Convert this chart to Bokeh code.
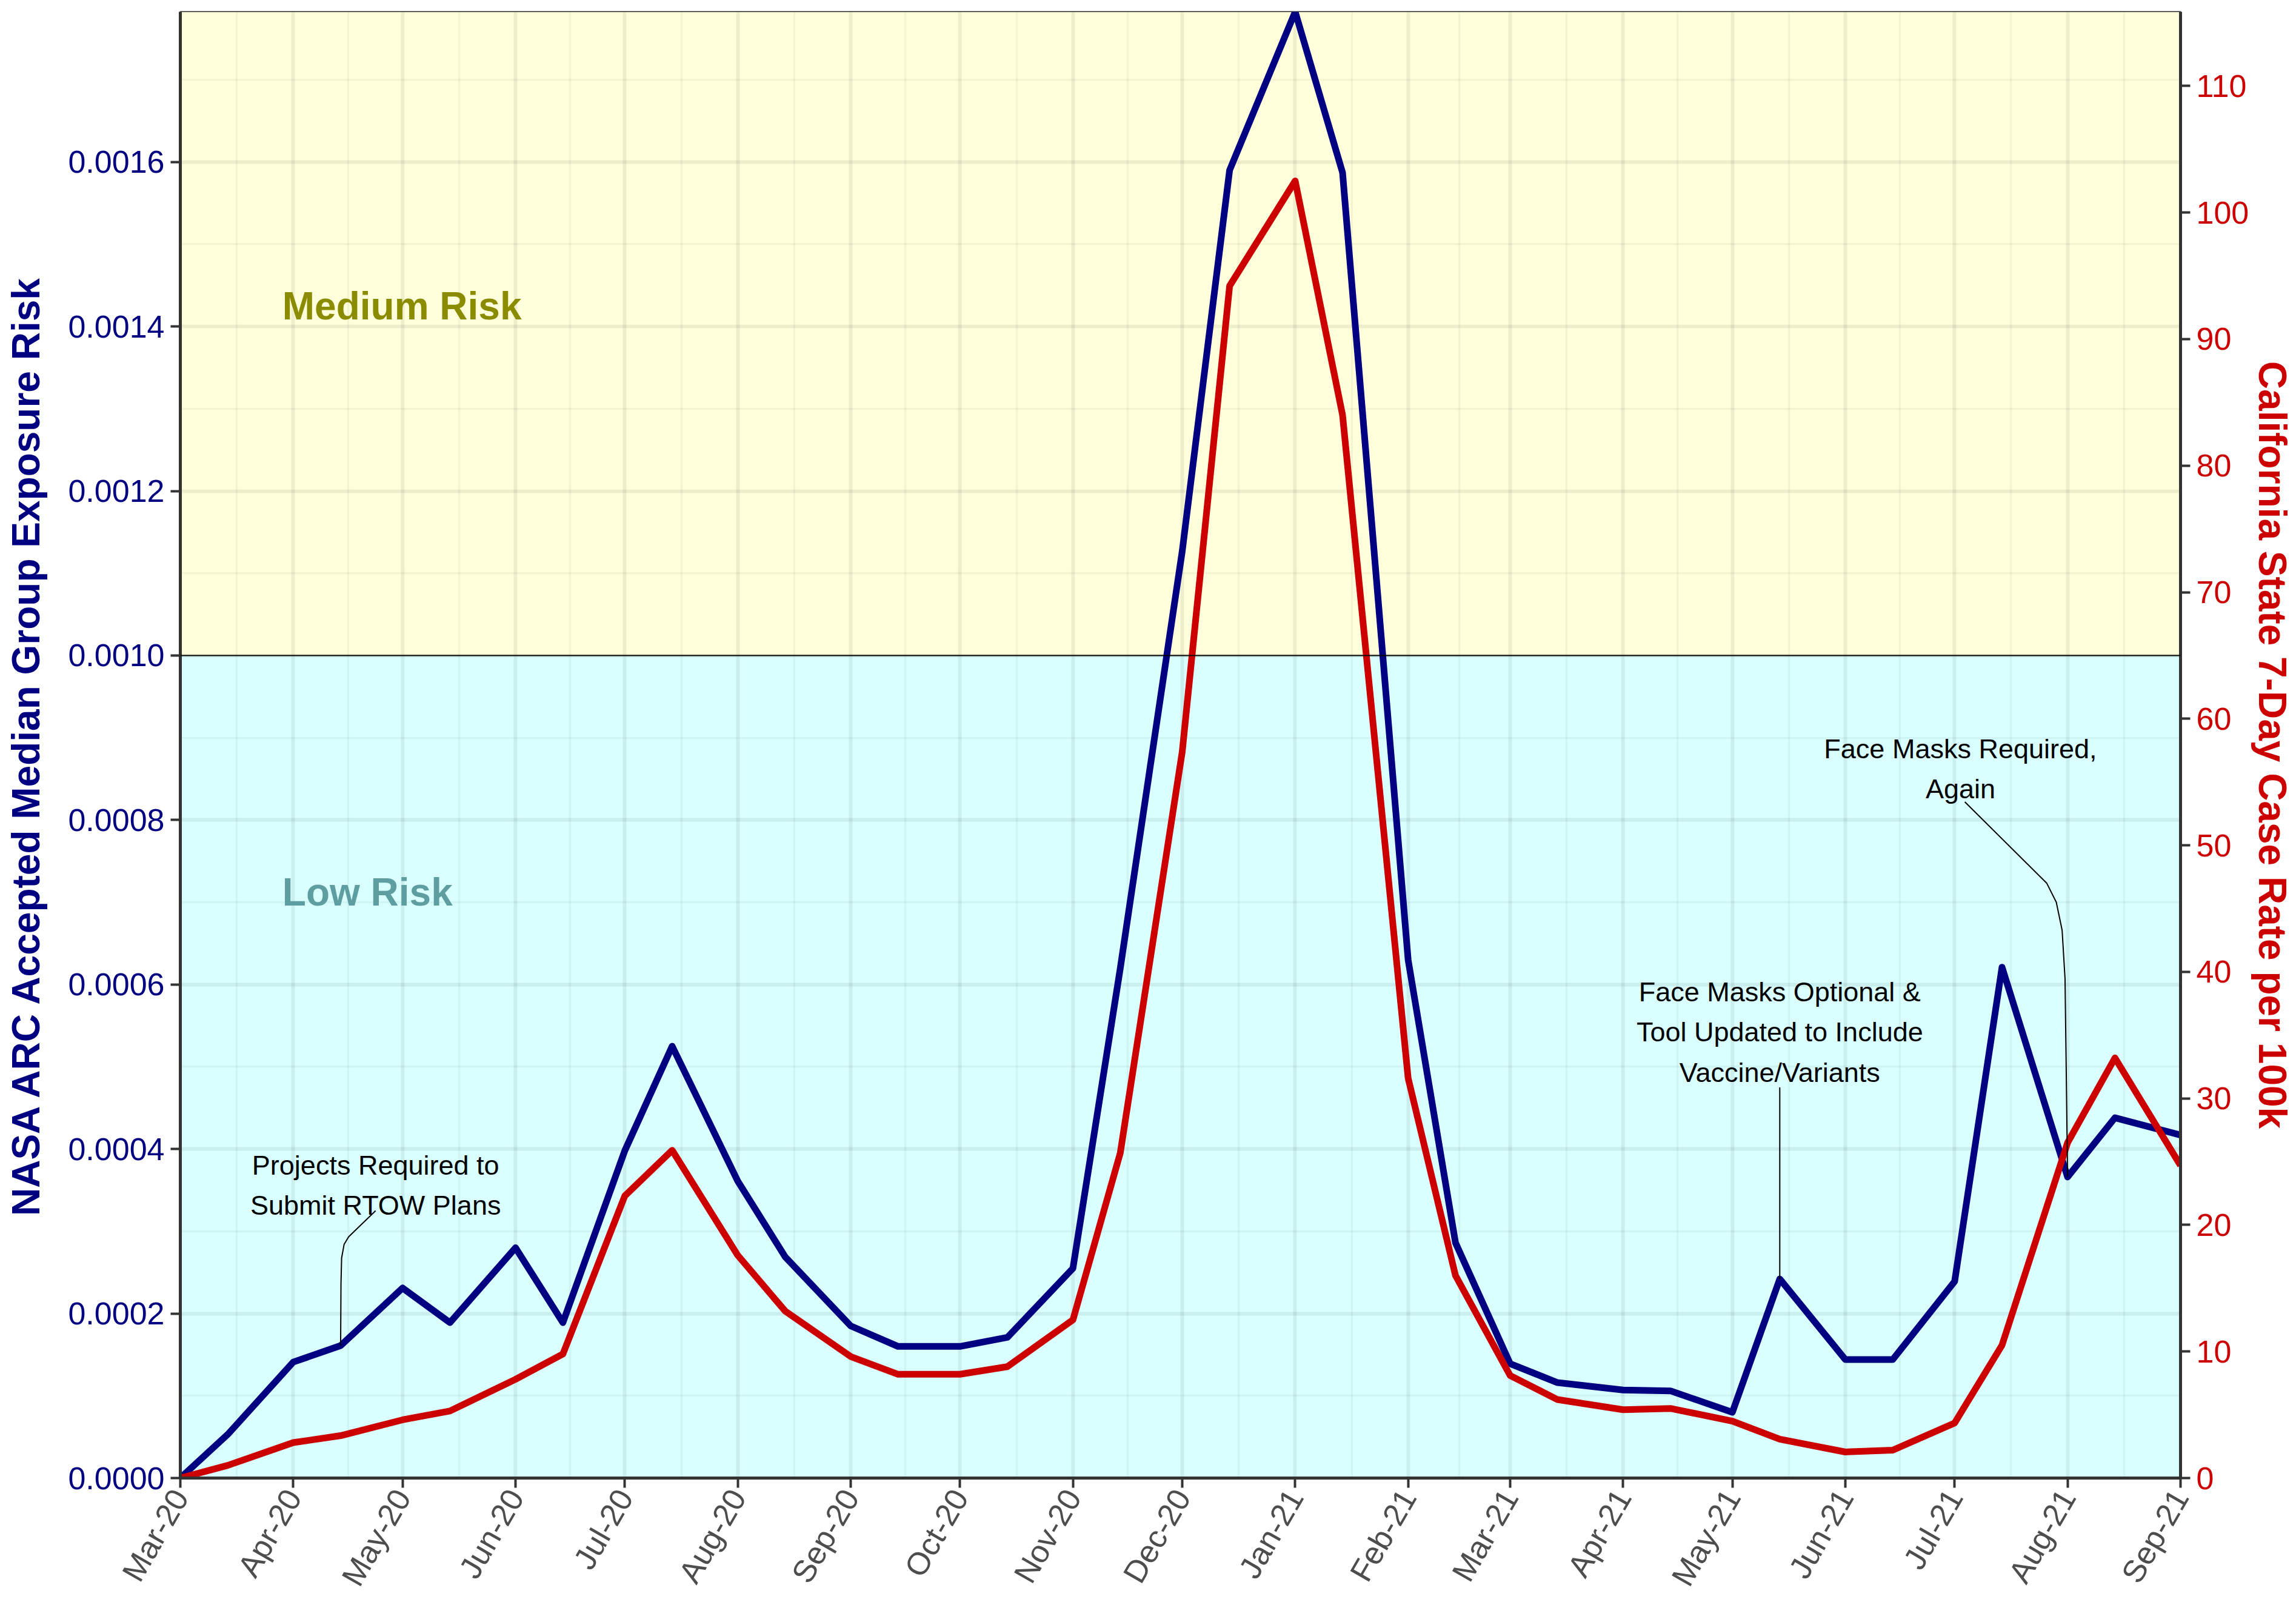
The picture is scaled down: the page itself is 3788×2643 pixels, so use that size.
import math
import pandas as pd
from bokeh.plotting import figure
from bokeh.models import (Range1d, LinearAxis, FixedTicker, DatetimeTickFormatter,
                          NumeralTickFormatter, Span)
from bokeh.core.properties import value
from bokeh.embed import file_html
from bokeh.resources import INLINE

# ---------------- data ----------------
dates = ["2020-03-01", "2020-03-14", "2020-04-01", "2020-04-14", "2020-05-01", "2020-05-14",
         "2020-06-01", "2020-06-14", "2020-07-01", "2020-07-14", "2020-08-01", "2020-08-14",
         "2020-09-01", "2020-09-14", "2020-10-01", "2020-10-14", "2020-11-01", "2020-11-14",
         "2020-12-01", "2020-12-14", "2021-01-01", "2021-01-14", "2021-02-01", "2021-02-14",
         "2021-03-01", "2021-03-14", "2021-04-01", "2021-04-14", "2021-05-01", "2021-05-14",
         "2021-06-01", "2021-06-14", "2021-07-01", "2021-07-14", "2021-08-01", "2021-08-14",
         "2021-09-01"]

exposure_risk = [0.0, 0.000053, 0.000141, 0.000161, 0.000231, 0.000189,
                 0.000280, 0.000189, 0.000398, 0.000525, 0.000361, 0.000269,
                 0.000185, 0.000160, 0.000160, 0.000171, 0.000255, 0.000620,
                 0.001127, 0.001590, 0.0017825, 0.001587, 0.000630, 0.000286,
                 0.000139, 0.000116, 0.000107, 0.000106, 0.000080, 0.000242,
                 0.000144, 0.000144, 0.000239, 0.000621, 0.000366, 0.000438,
                 0.000417]

case_rate = [0.0, 1.0, 2.8, 3.35, 4.6, 5.3,
             7.8, 9.8, 22.3, 25.9, 17.6, 13.2,
             9.6, 8.2, 8.2, 8.8, 12.5, 25.7,
             57.4, 94.2, 102.5, 84.0, 31.6, 16.0,
             8.1, 6.2, 5.4, 5.5, 4.5, 3.07,
             2.06, 2.2, 4.35, 10.5, 26.5, 33.2,
             24.7]

month_ticks = ["2020-03-01", "2020-04-01", "2020-05-01", "2020-06-01", "2020-07-01",
               "2020-08-01", "2020-09-01", "2020-10-01", "2020-11-01", "2020-12-01",
               "2021-01-01", "2021-02-01", "2021-03-01", "2021-04-01", "2021-05-01",
               "2021-06-01", "2021-07-01", "2021-08-01", "2021-09-01"]
month_labels = ["Mar-20", "Apr-20", "May-20", "Jun-20", "Jul-20", "Aug-20", "Sep-20",
                "Oct-20", "Nov-20", "Dec-20", "Jan-21", "Feb-21", "Mar-21", "Apr-21",
                "May-21", "Jun-21", "Jul-21", "Aug-21", "Sep-21"]

left_ticks = [0.0, 0.0002, 0.0004, 0.0006, 0.0008, 0.0010, 0.0012, 0.0014, 0.0016]
left_minor = [0.0001, 0.0003, 0.0005, 0.0007, 0.0009, 0.0011, 0.0013, 0.0015, 0.0017]
right_ticks = [0, 10, 20, 30, 40, 50, 60, 70, 80, 90, 100, 110]
sec_axis_factor = 65000          # case rate = risk * 65000
risk_threshold = 0.001

zone_labels = ["Medium Risk", "Low Risk"]
zone_label_day = [28, 28]                 # days after first date (left aligned)
zone_label_val = [0.001425, 0.000712]     # vertical centre of the label

# annotations: text, label centre (days after start, risk), leader path (days, risk)
notes = ["Projects Required to\nSubmit RTOW Plans",
         "Face Masks Optional &\nTool Updated to Include\nVaccine/Variants",
         "Face Masks Required,\nAgain"]
note_day = [53.6, 439.0, 488.6]
note_val = [0.000356, 0.000542, 0.000862]
leader_days = [[44.0, 44.1, 44.27, 44.95, 46.2, 53.6],
               [439.0, 439.0],
               [489.8, 512.3, 514.9, 516.5, 517.3, 518.0]]
leader_vals = [[0.000161, 0.000237, 0.0002675, 0.000284, 0.0002933, 0.000325],
               [0.000242, 0.000475],
               [0.000822, 0.000723, 0.000700, 0.000666, 0.000607, 0.000366]]

# ---------------- helpers ----------------
def ms(d):
    return pd.Timestamp(d).value / 1e6

DAY = 86400000.0
x = [ms(d) for d in dates]
t0 = x[0]
mticks = [ms(d) for d in month_ticks]
mminor = [(a + b) / 2 for a, b in zip(mticks[:-1], mticks[1:])]

FONT = "Liberation Sans"
NAVY = "#000080"
RED = "#CC0000"
AX = "#333333"

ymax = max(exposure_risk)

p = figure(width=3788, height=2643, x_axis_type="datetime",
           output_backend="svg", toolbar_location=None,
           x_range=Range1d(x[0], x[-1]), y_range=Range1d(0, ymax),
           min_border_left=297, min_border_right=182,
           min_border_top=19, min_border_bottom=201)
p.background_fill_color = "white"
p.border_fill_color = "white"
p.outline_line_color = "#000000"
p.outline_line_width = 2

p.extra_y_ranges = {"cases": Range1d(0, ymax * sec_axis_factor)}

# risk zones
p.quad(left=[x[0], x[0]], right=[x[-1], x[-1]],
       bottom=[0, risk_threshold], top=[risk_threshold, ymax],
       fill_color=["#D9FFFF", "#FFFFDB"], line_color=None, level="image")

# grid
p.xaxis.ticker = FixedTicker(ticks=mticks, minor_ticks=mminor)
p.yaxis.ticker = FixedTicker(ticks=left_ticks, minor_ticks=left_minor)
for g in (p.xgrid, p.ygrid):
    g.grid_line_color = "#000000"
    g.grid_line_alpha = 0.065
    g.grid_line_width = 6
    g.minor_grid_line_color = "#000000"
    g.minor_grid_line_alpha = 0.045
    g.minor_grid_line_width = 3.5
    g.level = "underlay"

p.add_layout(Span(location=risk_threshold, dimension="width",
                  line_color="black", line_width=2))

# data lines
p.line(x, exposure_risk, line_color=NAVY, line_width=11, line_join="round")
p.line(x, case_rate, line_color=RED, line_width=11, line_join="round",
       y_range_name="cases")

# leader lines + notes
for dl, vl in zip(leader_days, leader_vals):
    p.line([t0 + d * DAY for d in dl], vl, line_color="black", line_width=2)
p.text(x=[t0 + d * DAY for d in note_day], y=note_val, text=notes,
       text_font=value(FONT), text_font_size="45px", text_color="black",
       text_align="center", text_baseline="middle", text_line_height=1.3)

# zone labels
p.text(x=[t0 + zone_label_day[0] * DAY], y=[zone_label_val[0]], text=[zone_labels[0]],
       text_font=value(FONT), text_font_size="64px", text_font_style="bold",
       text_color="#8B8B00", text_align="left", text_baseline="middle")
p.text(x=[t0 + zone_label_day[1] * DAY], y=[zone_label_val[1]], text=[zone_labels[1]],
       text_font=value(FONT), text_font_size="64px", text_font_style="bold",
       text_color="#5F9EA0", text_align="left", text_baseline="middle")

# axes
xa = p.xaxis[0]
xa.formatter = DatetimeTickFormatter(months="%b-%y", days="%b-%y", years="%b-%y")
xa.major_label_overrides = dict(zip(mticks, month_labels))
xa.major_label_orientation = math.pi / 3
xa.major_label_text_color = "#4D4D4D"
xa.major_label_standoff = 7

ya = p.yaxis[0]
ya.formatter = NumeralTickFormatter(format="0.0000")
ya.axis_label = "NASA ARC Accepted Median Group Exposure Risk"
ya.axis_label_text_color = NAVY
ya.major_label_text_color = NAVY
ya.major_label_standoff = 10
ya.axis_label_standoff = 30
ya.axis_label_text_font_size = "64px"

ra = LinearAxis(y_range_name="cases", ticker=FixedTicker(ticks=right_ticks))
ra.axis_label = "California State 7-Day Case Rate per 100k"
ra.axis_label_text_color = RED
ra.major_label_text_color = RED
ra.major_label_standoff = 10
ra.axis_label_standoff = 0
ra.axis_label_text_font_size = "64px"
p.add_layout(ra, "right")

for a in (xa, ya, ra):
    a.axis_line_color = AX
    a.axis_line_width = 5
    a.major_tick_line_color = AX
    a.major_tick_line_width = 4
    a.major_tick_in = 0
    a.major_tick_out = 16
    a.minor_tick_out = 0
    a.minor_tick_in = 0
    a.major_label_text_font = FONT
    a.major_label_text_font_size = "52px"
    a.axis_label_text_font = FONT
    a.axis_label_text_font_style = "bold"

open("out.html", "w").write(file_html(p, INLINE))
